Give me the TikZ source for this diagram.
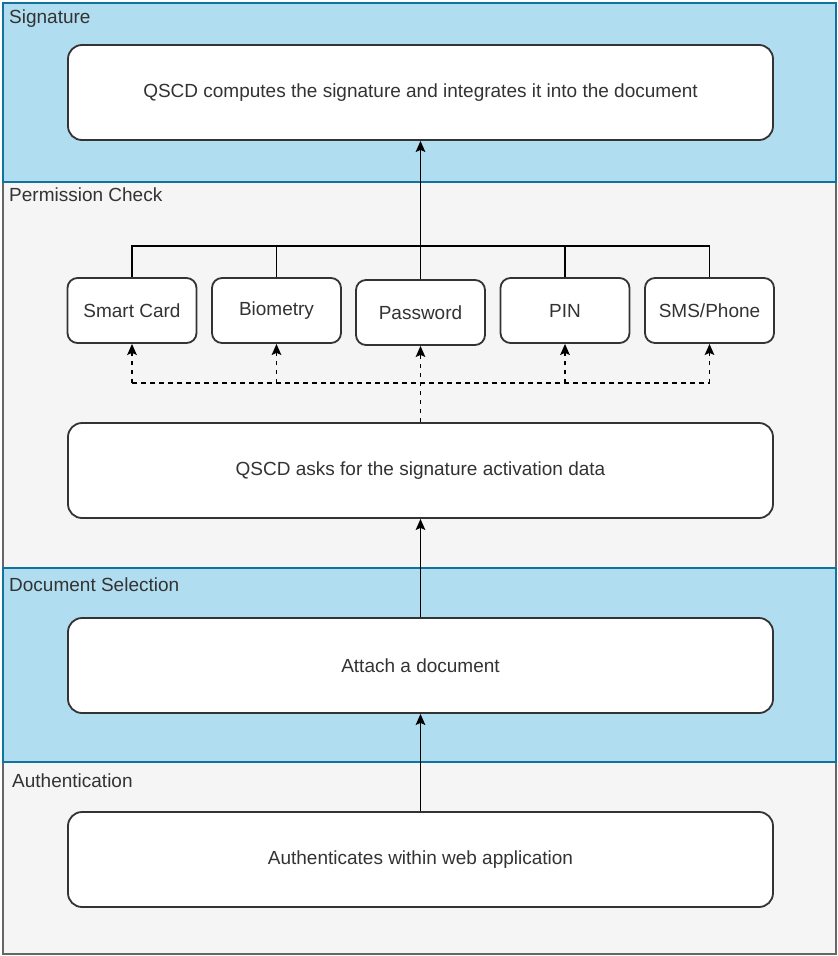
\documentclass[tikz,border=0pt]{standalone}
\usepackage{fontspec}
\setmainfont{Liberation Sans}
\usetikzlibrary{arrows.meta}
\definecolor{laneblue}{HTML}{B1DDF0}
\definecolor{laneblueline}{HTML}{10739E}
\definecolor{lanegrey}{HTML}{F5F5F5}
\definecolor{lanegreyline}{HTML}{666666}
\definecolor{boxline}{HTML}{333333}
\definecolor{txt}{HTML}{333333}
\begin{document}
\begin{tikzpicture}[x=1pt,y=-1pt,
  every node/.style={font=\fontsize{19}{22}\selectfont, text=txt},
  bigbox/.style={draw=boxline, line width=1.8pt, fill=white, rounded corners=14pt, minimum width=705pt, minimum height=95pt, inner sep=0pt},
  smallbox/.style={draw=boxline, line width=1.8pt, fill=white, rounded corners=10pt, minimum width=129pt, minimum height=65pt, inner sep=0pt},
  lanetitle/.style={anchor=base west, inner sep=0pt},
  conn/.style={line width=1.6pt, draw=black},
  arr/.style={conn, -{Stealth[length=11pt,width=9.5pt,inset=2pt]}},
  dashconn/.style={conn, dash pattern=on 4.5pt off 4.5pt},
  dasharr/.style={dashconn, -{Stealth[length=11pt,width=9.5pt,inset=2pt]}}]
\useasboundingbox (0,0) rectangle (838,956);
\fill[white] (0,0) rectangle (838,956);
% lanes
\draw[fill=lanegrey, draw=lanegreyline, line width=1.4pt] (3,182) rectangle (836,568);
\draw[fill=lanegrey, draw=lanegreyline, line width=1.4pt] (3,762) rectangle (836,954);
\draw[fill=laneblue, draw=laneblueline, line width=1.4pt] (3,3) rectangle (836,182);
\draw[fill=laneblue, draw=laneblueline, line width=1.4pt] (3,568) rectangle (836,762);
\node[lanetitle] (t1) at (9,23.5) {Signature};
\node[lanetitle] (t2) at (9,201.5) {Permission Check};
\node[lanetitle] (t3) at (9,591) {Document Selection};
\node[lanetitle] (t4) at (12,787) {Authentication};
% boxes
\node[bigbox] (sig) at (420.5,92.5) {QSCD computes the signature and integrates it into the document};
\node[smallbox] (sc) at (132,310.5) {Smart Card};
\node[smallbox] (bio) at (276.5,310.5) {Biometry};
\node[smallbox] (pw) at (420.5,312.5) {Password};
\node[smallbox] (pin) at (565,310.5) {PIN};
\node[smallbox] (sms) at (709.5,310.5) {SMS/Phone};
\node[bigbox] (qa) at (420.5,470.5) {QSCD asks for the signature activation data};
\node[bigbox] (att) at (420.5,665.5) {Attach a document};
\node[bigbox] (auth) at (420.5,859.5) {Authenticates within web application};
% solid bus
\coordinate (busL) at (132,246);
\coordinate (busR) at (709.5,246);
\draw[conn] (sc.north) -- (busL) -- (busR) -- (sms.north);
\draw[conn] (bio.north) -- (bio.north |- busL);
\draw[conn] (pin.north) -- (pin.north |- busL);
\draw[arr] (pw.north) -- (sig.south);
% dashed bus
\coordinate (dL) at (132,383);
\coordinate (dR) at (709.5,383);
\draw[dashconn] (dL) -- (dR);
\draw[dasharr] (qa.north) -- (pw.south);
\draw[dasharr] (dL) -- (sc.south);
\draw[dasharr] (bio.south |- dL) -- (bio.south);
\draw[dasharr] (pin.south |- dL) -- (pin.south);
\draw[dasharr] (dR) -- (sms.south);
% flow arrows
\draw[arr] (att.north) -- (qa.south);
\draw[arr] (auth.north) -- (att.south);
\end{tikzpicture}
\end{document}
